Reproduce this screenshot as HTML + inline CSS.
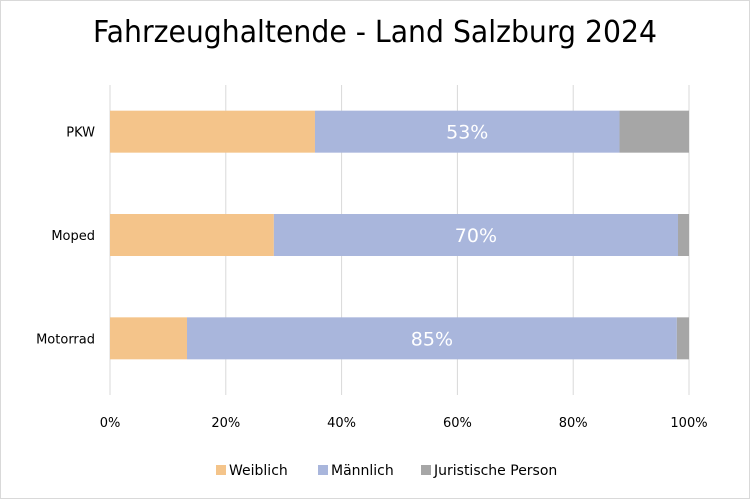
<!DOCTYPE html>
<html><head><meta charset="utf-8"><style>
body{margin:0;background:#fff}
svg{display:block;font-family:"DejaVu Sans","Liberation Sans",sans-serif}
</style></head><body>
<svg id="chart" width="750" height="499" viewBox="0 0 750 499">
<rect x="0.5" y="0.5" width="749" height="498" fill="#fff" stroke="#d9d9d9"/>
<text x="375" y="42" text-anchor="middle" font-size="30" fill="#000" textLength="564" lengthAdjust="spacingAndGlyphs">Fahrzeughaltende - Land Salzburg 2024</text>
<g id="grid"></g><g id="bars"></g><g id="labels"></g><g id="legend"></g>
</svg>
<script>
const categories = ["PKW", "Moped", "Motorrad"];
const weiblich = [35.4, 28.3, 13.3];
const maennlich = [52.6, 69.8, 84.6];
const juristisch = [12.0, 1.9, 2.1];
const valueLabels = ["53%", "70%", "85%"];
const ticks = [0, 20, 40, 60, 80, 100];
const seriesNames = ["Weiblich", "Männlich", "Juristische Person"];
const colors = ["#f4c48a", "#a9b6dc", "#a6a6a6"];
const NS = "http://www.w3.org/2000/svg";
const x0 = 110, x1 = 689, yTop = 85, yBot = 395;
const xs = v => x0 + (x1 - x0) * v / 100;
const band = (yBot - yTop) / categories.length;
const yc = i => yTop + band * (i + 0.5) - 5;
const barH = 42;
function mk(tag, attrs, parent){const e=document.createElementNS(NS,tag);for(const k in attrs)e.setAttribute(k,attrs[k]);document.getElementById(parent).appendChild(e);return e;}
ticks.forEach(t=>{
  const l=mk("line",{x1:xs(t),x2:xs(t),y1:yTop,y2:yBot,stroke:"#d9d9d9","stroke-width":1},"grid");
  
  
  const tx=mk("text",{x:xs(t),y:427,"text-anchor":"middle","font-size":13,fill:"#000"},"grid");
  tx.textContent=t+"%";
  
  
});
const series=[weiblich,maennlich,juristisch];
categories.forEach((c,i)=>{
  let acc=0;
  series.forEach((s,j)=>{
    const r=mk("rect",{x:xs(acc),y:yc(i)-barH/2,width:xs(acc+s[i])-xs(acc),height:barH,fill:colors[j]},"bars");
    
    
    if(j===1){
      const t=mk("text",{x:(xs(acc)+xs(acc+s[i]))/2,y:yc(i)+7,"text-anchor":"middle","font-size":19,fill:"#fff"},"labels");
      t.textContent=valueLabels[i];
      
      
    }
    acc+=s[i];
  });
  const cl=mk("text",{x:95,y:yc(i)+5,"text-anchor":"end","font-size":13,fill:"#000"},"labels");
  cl.textContent=c;
  
  
});
const lx=[216,318,421];
seriesNames.forEach((n,j)=>{
  const r=mk("rect",{x:lx[j],y:465,width:10,height:10,fill:colors[j]},"legend");
  
  
  const t=mk("text",{x:lx[j]+13,y:475,"font-size":14,fill:"#000"},"legend");
  t.textContent=n;
  
  
});
</script>
</body></html>
